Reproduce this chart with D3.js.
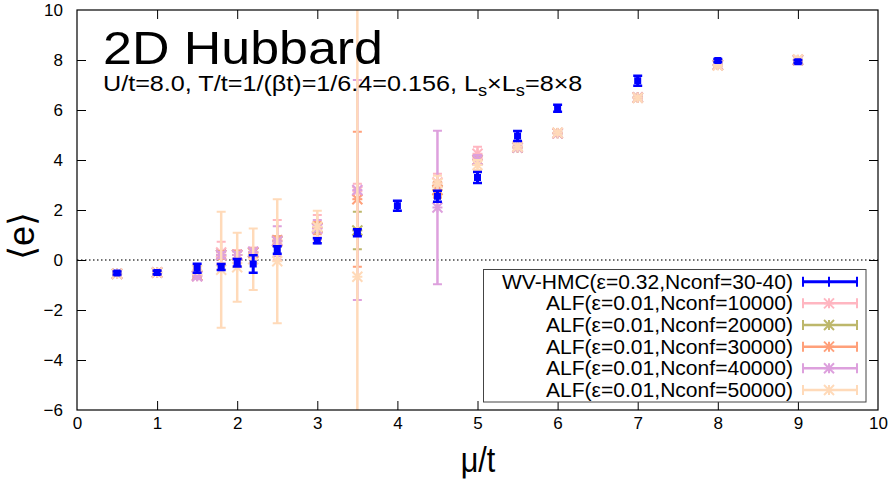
<!DOCTYPE html>
<html><head><meta charset="utf-8">
<script src="https://cdn.jsdelivr.net/npm/d3@7"></script>
<style>html,body{margin:0;padding:0;background:#fff}svg{display:block;font-family:"Liberation Sans",Arial,sans-serif}</style>
</head><body><svg id="c" width="893" height="488"></svg>
<script>
// ---- data ----
const xTicks = [0,1,2,3,4,5,6,7,8,9,10];
const yTicks = [-6,-4,-2,0,2,4,6,8,10];

const hmcX = [0.5,1.0,1.5,1.8,2.0,2.2,2.5,3.0,3.5,4.0,4.5,5.0,5.5,6.0,7.0,8.0,9.0];
const hmcY = [-0.52,-0.50,-0.33,-0.28,-0.11,-0.16,0.40,0.77,1.09,2.17,2.55,3.30,4.96,6.07,7.17,7.98,7.93];
const hmcE = [0.06,0.07,0.18,0.12,0.15,0.35,0.15,0.10,0.14,0.20,0.22,0.22,0.20,0.14,0.20,0.06,0.06];

const alfX = [0.5,1.0,1.5,1.8,2.0,2.2,2.5,3.0,3.5,4.5,5.0,5.5,6.0,7.0,8.0,9.0];
const alf10000Y = [-0.55,-0.50,-0.65,0.30,0.20,0.30,0.80,1.30,2.75,3.10,4.25,4.55,5.08,6.50,7.80,8.00];
const alf10000E = [0.05,0.05,0.10,0.43,0.20,0.20,0.80,0.50,0.30,0.35,0.28,0.10,0.08,0.08,0.05,0.05];
const alf20000Y = [-0.55,-0.50,-0.62,0.20,0.20,0.30,0.75,1.30,1.18,2.80,4.00,4.50,5.07,6.50,7.80,8.00];
const alf20000E = [0.05,0.05,0.10,0.15,0.15,0.15,0.20,0.20,0.75,0.30,0.20,0.10,0.08,0.08,0.05,0.05];
const alf30000Y = [-0.55,-0.50,-0.62,0.20,0.20,0.30,0.75,1.28,2.43,2.80,4.00,4.50,5.07,6.50,7.80,8.00];
const alf30000E = [0.05,0.05,0.10,0.15,0.15,0.15,0.20,0.25,2.70,0.30,0.20,0.10,0.08,0.08,0.05,0.05];
const alf40000Y = [-0.55,-0.50,-0.65,0.20,0.20,0.33,0.75,1.25,2.80,2.10,4.00,4.50,5.07,6.50,7.80,8.00];
const alf40000E = [0.05,0.05,0.10,0.12,0.12,0.12,0.60,0.35,4.40,3.07,0.20,0.10,0.08,0.08,0.05,0.05];
const alf50000Y = [-0.55,-0.50,-0.40,-0.39,-0.29,0.03,-0.05,1.33,-0.67,3.07,3.80,4.53,5.09,6.49,7.78,8.02];
const alf50000E = [0.05,0.05,0.08,2.32,1.38,1.23,2.48,0.64,12.0,0.30,0.20,0.10,0.08,0.08,0.05,0.05];

const seriesNames = ["WV-HMC(ε=0.32,Nconf=30-40)","ALF(ε=0.01,Nconf=10000)","ALF(ε=0.01,Nconf=20000)",
  "ALF(ε=0.01,Nconf=30000)","ALF(ε=0.01,Nconf=40000)","ALF(ε=0.01,Nconf=50000)"];
const seriesColors = ["#0000ff","#ffb6c1","#bdb76b","#ffa07a","#dda0dd","#ffdab9"];

// ---- layout ----
const L=77,R=878,T=10,B=410;
const svg=d3.select("#c");
const x=d3.scaleLinear().domain([0,10]).range([L,R]);
const y=d3.scaleLinear().domain([-6,10]).range([B,T]);

svg.append("defs").append("clipPath").attr("id","clip")
  .append("rect").attr("x",L).attr("y",T).attr("width",R-L).attr("height",B-T);

// zero line
svg.append("line").attr("x1",x(0)).attr("x2",x(10)).attr("y1",y(0)).attr("y2",y(0))
  .attr("stroke","#444").attr("stroke-width",1.3).attr("stroke-dasharray","1.5,2.5");

// axes
const tk=9;
const gx=svg.append("g").attr("transform",`translate(0,${B})`)
  .call(d3.axisBottom(x).tickValues(xTicks).tickFormat(d3.format("d")).tickSize(-tk).tickPadding(tk+7));
const gxt=svg.append("g").attr("transform",`translate(0,${T})`)
  .call(d3.axisTop(x).tickValues(xTicks).tickFormat("").tickSize(-tk));
const gy=svg.append("g").attr("transform",`translate(${L},0)`)
  .call(d3.axisLeft(y).tickValues(yTicks).tickFormat(d3.format("d")).tickSize(-tk).tickPadding(tk+5));
const gyr=svg.append("g").attr("transform",`translate(${R},0)`)
  .call(d3.axisRight(y).tickValues(yTicks).tickFormat("").tickSize(-tk));
[gx,gxt,gy,gyr].forEach(g=>{
  g.select(".domain").remove();
  g.selectAll(".tick line").attr("stroke","#000").attr("stroke-width",1);
  g.selectAll("text").attr("font-family","Liberation Sans, Arial, sans-serif").attr("font-size",17).attr("fill","#000");
});
gx.selectAll("text").attr("dy","0.2em");
gy.selectAll("text").attr("dy","0.35em");
gx.selectAll(".tick").filter(d=>d===0||d===10).select("line").remove();
gy.selectAll(".tick").filter(d=>d===-6||d===10).select("line").remove();
gxt.selectAll(".tick").filter(d=>d===0||d===10).select("line").remove();
gyr.selectAll(".tick").filter(d=>d===-6||d===10).select("line").remove();

// data layer
const plot=svg.append("g").attr("clip-path","url(#clip)");
function drawStar(g,cx,cy,r){
  g.append("line").attr("x1",cx-r).attr("x2",cx+r).attr("y1",cy).attr("y2",cy).attr("stroke-width",2);
  g.append("line").attr("x1",cx).attr("x2",cx).attr("y1",cy-r).attr("y2",cy+r).attr("stroke-width",2);
  g.append("line").attr("x1",cx-r).attr("x2",cx+r).attr("y1",cy-r).attr("y2",cy+r).attr("stroke-width",2);
  g.append("line").attr("x1",cx-r).attr("x2",cx+r).attr("y1",cy+r).attr("y2",cy-r).attr("stroke-width",2);
}
function drawAlf(ys,es,color){
  const g=plot.append("g").attr("stroke",color).attr("fill","none");
  alfX.forEach((xv,i)=>{
    const cx=x(xv),y1=y(ys[i]+es[i]),y2=y(ys[i]-es[i]),cy=y(ys[i]);
    g.append("line").attr("x1",cx).attr("x2",cx).attr("y1",y1).attr("y2",y2).attr("stroke-width",2.5);
    [y1,y2].forEach(yy=>g.append("line").attr("x1",cx-4.5).attr("x2",cx+4.5).attr("y1",yy).attr("y2",yy).attr("stroke-width",2));
    drawStar(g,cx,cy,5);
  });
}
drawAlf(alf10000Y,alf10000E,seriesColors[1]);
drawAlf(alf20000Y,alf20000E,seriesColors[2]);
drawAlf(alf30000Y,alf30000E,seriesColors[3]);
drawAlf(alf40000Y,alf40000E,seriesColors[4]);
drawAlf(alf50000Y,alf50000E,seriesColors[5]);

// HMC
const gh=plot.append("g").attr("stroke",seriesColors[0]).attr("fill",seriesColors[0]);
hmcX.forEach((xv,i)=>{
  const cx=x(xv),y1=y(hmcY[i]+hmcE[i]),y2=y(hmcY[i]-hmcE[i]),cy=y(hmcY[i]);
  gh.append("line").attr("x1",cx).attr("x2",cx).attr("y1",y1).attr("y2",y2).attr("stroke-width",3);
  [y1,y2].forEach(yy=>gh.append("line").attr("x1",cx-4.5).attr("x2",cx+4.5).attr("y1",yy).attr("y2",yy).attr("stroke-width",2.5));
  gh.append("rect").attr("x",cx-3.5).attr("y",cy-3.5).attr("width",7).attr("height",7).attr("stroke","none");
});

// border
svg.append("rect").attr("x",L).attr("y",T).attr("width",R-L).attr("height",B-T)
  .attr("fill","none").attr("stroke","#000").attr("stroke-width",1.2);

// legend
const lg=svg.append("g");
lg.append("rect").attr("x",483.5).attr("y",269.5).attr("width",382.5).attr("height",132.5)
  .attr("fill","#fff").attr("stroke","#444").attr("stroke-width",1);
seriesNames.forEach((nm,i)=>{
  const cy=281.7+i*21.65;
  lg.append("text").attr("x",793).attr("y",cy+7).attr("text-anchor","end")
    .attr("font-size",20.5).attr("fill","#000")
    .attr("textLength",i===0?291:247).attr("lengthAdjust","spacingAndGlyphs").text(nm);
  const c=seriesColors[i];
  const g=lg.append("g").attr("stroke",c).attr("fill",c);
  g.append("line").attr("x1",803).attr("x2",857).attr("y1",cy).attr("y2",cy).attr("stroke-width",i===0?3:2.5);
  [803,857].forEach(xx=>g.append("line").attr("x1",xx).attr("x2",xx).attr("y1",cy-5).attr("y2",cy+5).attr("stroke-width",2));
  if(i===0){
    g.append("line").attr("x1",829).attr("x2",829).attr("y1",cy-5).attr("y2",cy+5).attr("stroke-width",2);
  } else drawStar(g,829,cy,5);
});

// titles
svg.append("text").attr("x",103).attr("y",64).attr("font-size",46).attr("fill","#000")
  .attr("textLength",280).attr("lengthAdjust","spacingAndGlyphs").text("2D Hubbard");
const st=svg.append("text").attr("transform","translate(103,91) scale(1.145,1)").attr("font-size",22).attr("fill","#000");
st.append("tspan").text("U/t=8.0, T/t=1/(βt)=1/6.4=0.156, L");
st.append("tspan").attr("font-size",16).attr("dy",5).text("s");
st.append("tspan").attr("dy",-5).text("×L");
st.append("tspan").attr("font-size",16).attr("dy",5).text("s");
st.append("tspan").attr("dy",-5).text("=8×8");

// axis labels
svg.append("text").attr("x",478).attr("y",472).attr("text-anchor","middle").attr("font-size",36)
  .attr("transform","translate(478,0) scale(0.85,1) translate(-478,0)")
  .attr("fill","#000").text("μ/t");
svg.append("text").attr("transform","translate(34,236) rotate(-90)").attr("text-anchor","middle")
  .attr("font-size",36).attr("fill","#000").text("⟨e⟩");
</script></body></html>
